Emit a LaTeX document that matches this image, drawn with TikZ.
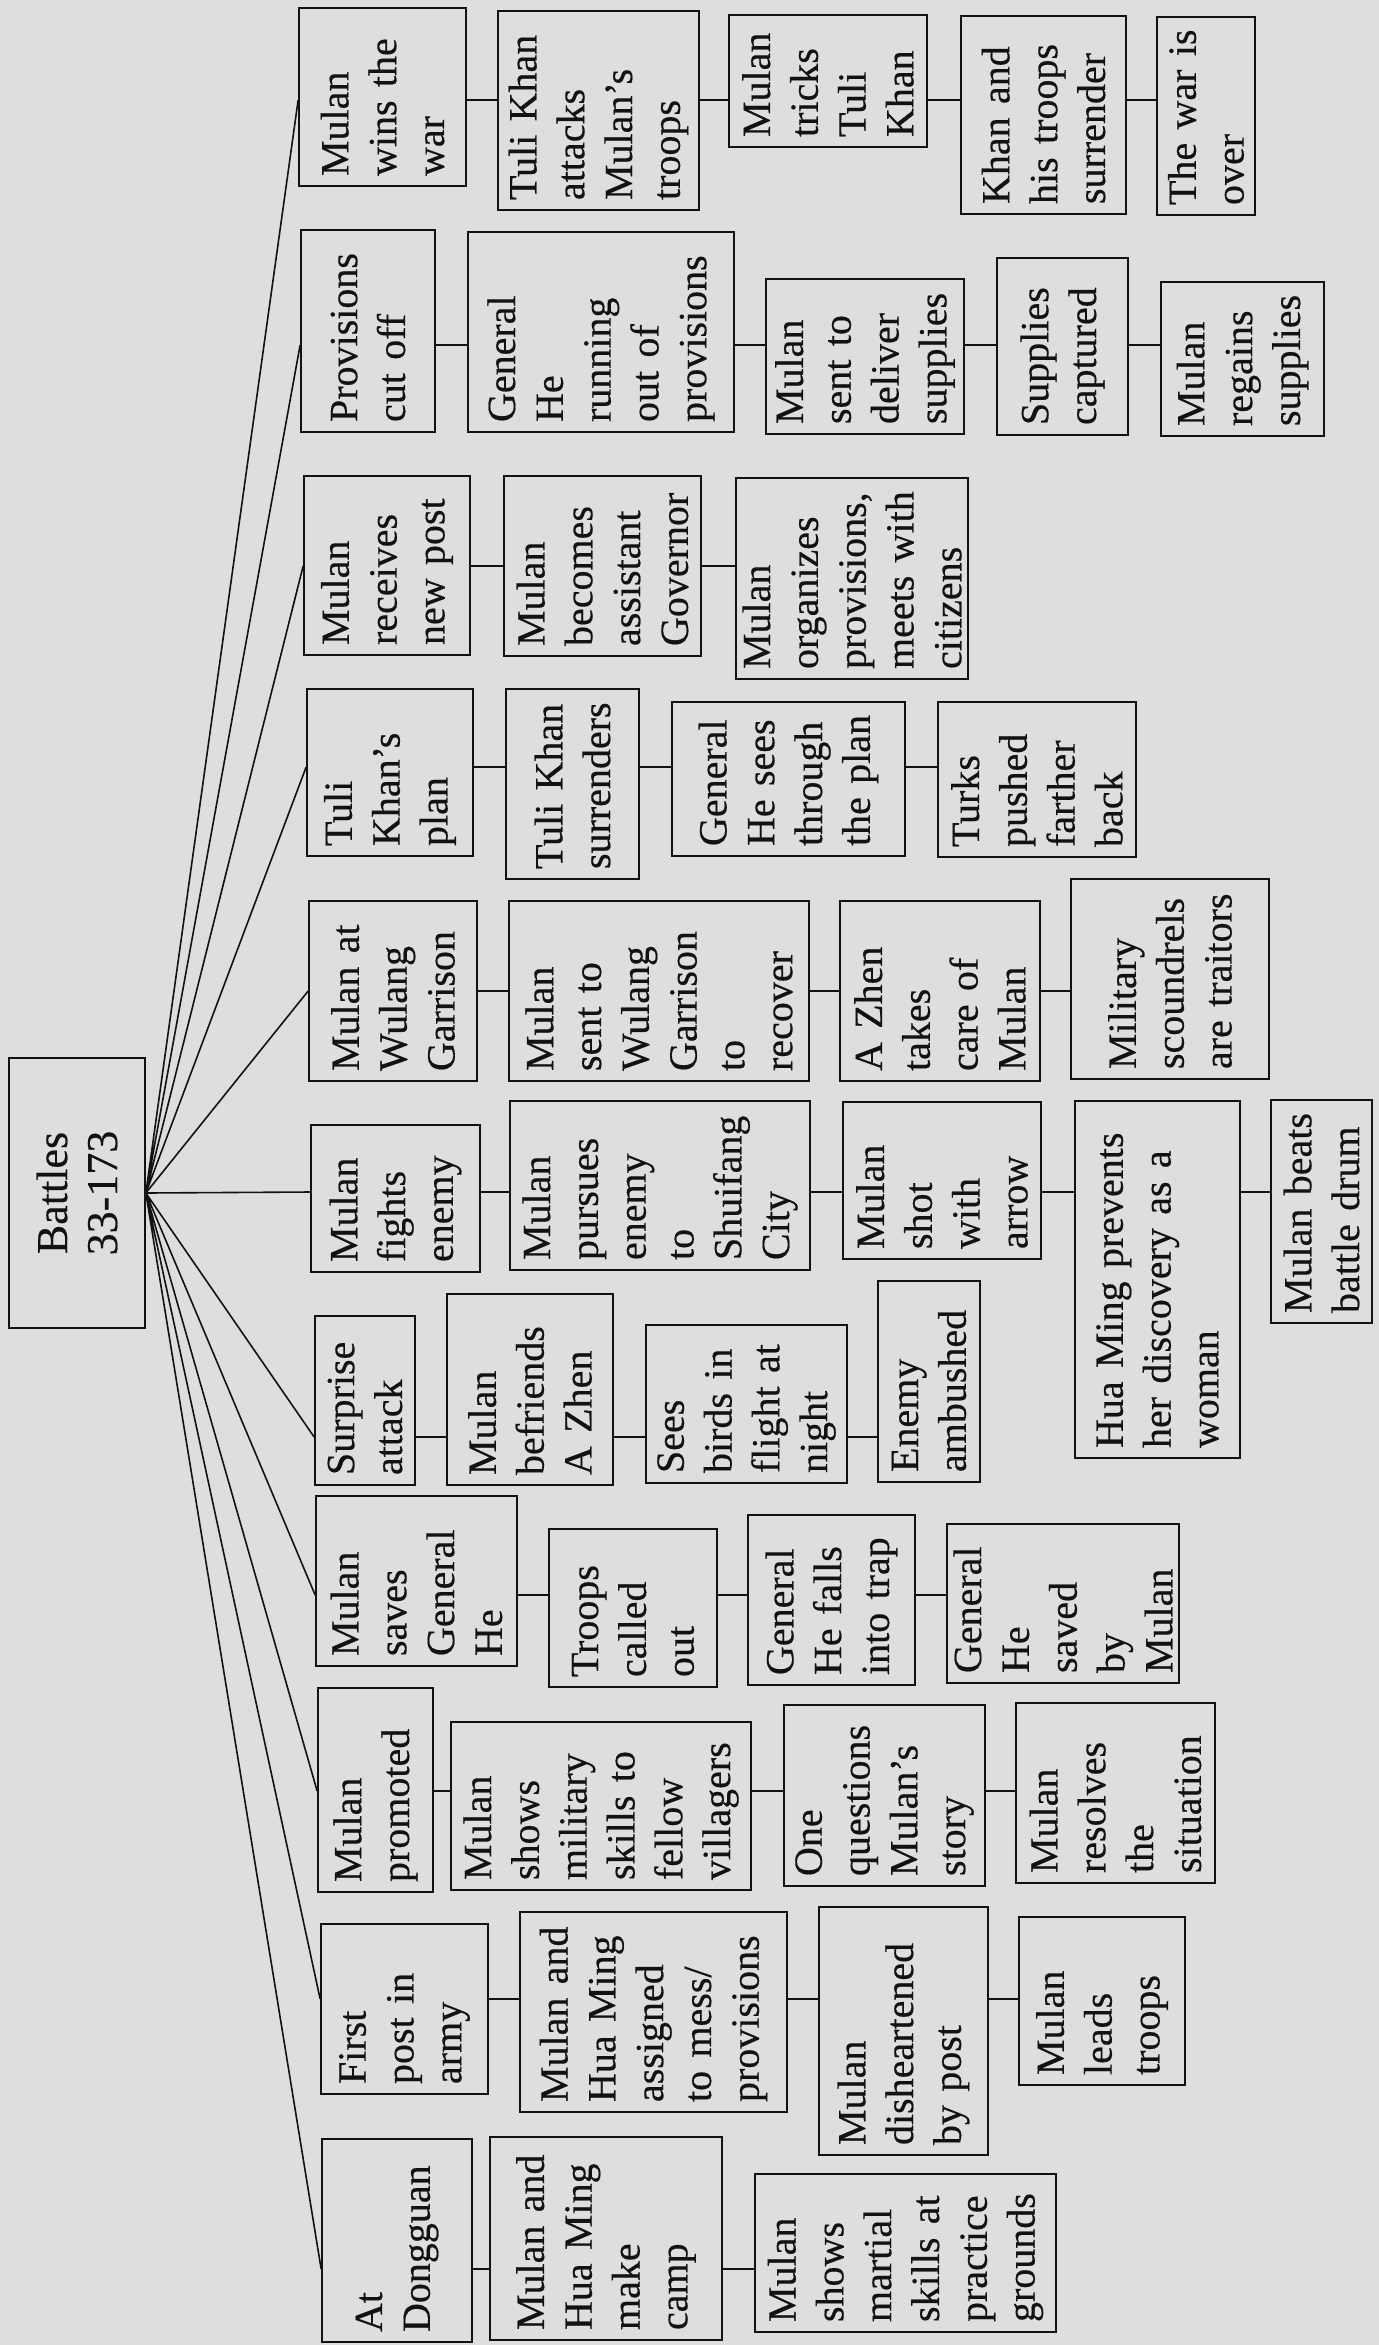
\documentclass[tikz,border=0pt]{standalone}
\usepackage{fontspec}
\usepackage{tikz}
\usepackage{xcolor}
\setmainfont{Liberation Serif}[FakeBold=0.4]
\hyphenpenalty=10000
\definecolor{paper}{RGB}{221,223,220}
\definecolor{ink}{RGB}{18,18,18}
\newcommand\evfont{\fontsize{20}{23.9}\selectfont}
\newcommand\rootfont{\fontsize{22}{25}\selectfont}
\tikzset{
  evt/.style={draw=ink, text=ink, line width=0.85pt, rotate=90, align=left, inner xsep=5pt, inner ysep=0pt, font=\evfont},
  link/.style={draw=ink, line width=0.8pt}
}

\begin{document}
\begin{tikzpicture}[x=0.5pt,y=-0.5pt]
\fill[paper] (0,0) rectangle (1379,2345);
\useasboundingbox (0,0) rectangle (1379,2345);

\node[evt, align=center, font=\rootfont, minimum width=135pt, minimum height=68pt] (R) at (77,1193) {Battles\\33-173};

% one row of boxes per battle
\node[evt, text width=79pt, minimum width=89pt, minimum height=83.5pt] (A1) at (382.5,97) {Mulan\\wins the\\war};
\node[evt, text width=89.5pt, minimum width=99.5pt, minimum height=100.5pt] (A2) at (598.5,110.5) {Tuli Khan\\attacks\\Mulan’s\\troops};
\node[evt, text width=56pt, minimum width=66pt, minimum height=99pt] (A3) at (828,81) {Mulan\\tricks\\Tuli\\Khan};
\node[evt, text width=89pt, minimum width=99pt, minimum height=82.5pt] (A4) at (1043.5,115) {Khan and\\his troops\\surrender};
\node[evt, text width=89pt, minimum width=99pt, minimum height=49pt] (A5) at (1206,116) {The war is\\over};

\node[evt, text width=91pt, minimum width=101pt, minimum height=67pt] (B1) at (368,331) {Provisions\\cut off};
\node[evt, text width=90pt, minimum width=100pt, minimum height=133pt] (B2) at (601,332) {General\\He\\running\\out of\\provisions};
\node[evt, text width=67.5pt, minimum width=77.5pt, minimum height=99pt] (B3) at (865,356.5) {Mulan\\sent to\\deliver\\supplies};
\node[evt, text width=78.5pt, minimum width=88.5pt, minimum height=65.5pt] (B4) at (1062.5,346.5) {Supplies\\captured};
\node[evt, text width=67pt, minimum width=77pt, minimum height=81.5pt] (B5) at (1242.5,359) {Mulan\\regains\\supplies};

\node[evt, text width=79.5pt, minimum width=89.5pt, minimum height=83pt] (C1) at (387,565.5) {Mulan\\receives\\new post};
\node[evt, text width=80pt, minimum width=90pt, minimum height=98.5pt] (C2) at (602.5,566) {Mulan\\becomes\\assistant\\Governor};
\node[evt, text width=90.5pt, minimum width=100.5pt, minimum height=116pt] (C3) at (852,578.5) {Mulan\\organizes\\provisions,\\meets with\\citizens};

\node[evt, text width=73.5pt, minimum width=83.5pt, minimum height=83pt] (D1) at (390,772.5) {Tuli\\Khan’s\\plan};
\node[evt, text width=85pt, minimum width=95pt, minimum height=66.5pt] (D2) at (572.5,784) {Tuli Khan\\surrenders};
\node[evt, text width=67pt, minimum width=77pt, minimum height=116.5pt] (D3) at (788.5,779) {General\\He sees\\through\\the plan};
\node[evt, text width=67.5pt, minimum width=77.5pt, minimum height=99pt] (D4) at (1037,779.5) {Turks\\pushed\\farther\\back};

\node[evt, text width=80pt, minimum width=90pt, minimum height=84pt] (E1) at (393,991) {Mulan at\\Wulang\\Garrison};
\node[evt, text width=80pt, minimum width=90pt, minimum height=150pt] (E2) at (659,991) {Mulan\\sent to\\Wulang\\Garrison\\to\\recover};
\node[evt, text width=80pt, minimum width=90pt, minimum height=100pt] (E3) at (940,991) {A Zhen\\takes\\care of\\Mulan};
\node[evt, text width=90pt, minimum width=100pt, minimum height=99pt] (E4) at (1170,979) {Military\\scoundrels\\are traitors};

\node[evt, text width=63.5pt, minimum width=73.5pt, minimum height=84.5pt] (F1) at (395.5,1198.5) {Mulan\\fights\\enemy};
\node[evt, text width=74.5pt, minimum width=84.5pt, minimum height=150pt] (F2) at (660,1185.5) {Mulan\\pursues\\enemy\\to\\Shuifang\\City};
\node[evt, text width=68.5pt, minimum width=78.5pt, minimum height=99pt] (F3) at (942,1180.5) {Mulan\\shot\\with\\arrow};
\node[evt, text width=168.5pt, minimum width=178.5pt, minimum height=82.5pt] (F4) at (1157.5,1279.5) {Hua Ming prevents\\her discovery as a\\woman};
\node[evt, text width=101.5pt, minimum width=111.5pt, minimum height=50.5pt] (F5) at (1321.5,1211.5) {Mulan beats\\battle drum};

\node[evt, text width=74.5pt, minimum width=84.5pt, minimum height=50pt] (G1) at (365,1400.5) {Surprise\\attack};
\node[evt, text width=85.5pt, minimum width=95.5pt, minimum height=83pt] (G2) at (530,1389.5) {Mulan\\befriends\\A Zhen};
\node[evt, text width=69pt, minimum width=79pt, minimum height=100.5pt] (G3) at (746.5,1404) {Sees\\birds in\\flight at\\night};
\node[evt, text width=90.5pt, minimum width=100.5pt, minimum height=51pt] (G4) at (929,1381.5) {Enemy\\ambushed};

\node[evt, text width=75pt, minimum width=85pt, minimum height=100.5pt] (H1) at (416.5,1581) {Mulan\\saves\\General\\He};
\node[evt, text width=69pt, minimum width=79pt, minimum height=84pt] (H2) at (633,1608) {Troops\\called\\out};
\node[evt, text width=75pt, minimum width=85pt, minimum height=83.5pt] (H3) at (831.5,1600) {General\\He falls\\into trap};
\node[evt, text width=69.5pt, minimum width=79.5pt, minimum height=116pt] (H4) at (1063,1603.5) {General\\He\\saved\\by\\Mulan};

\node[evt, text width=92pt, minimum width=102pt, minimum height=57.5pt] (I1) at (375.5,1790) {Mulan\\promoted};
\node[evt, text width=74pt, minimum width=84pt, minimum height=150pt] (I2) at (601,1806) {Mulan\\shows\\military\\skills to\\fellow\\villagers};
\node[evt, text width=80.5pt, minimum width=90.5pt, minimum height=100.5pt] (I3) at (884.5,1795.5) {One\\questions\\Mulan’s\\story};
\node[evt, text width=80pt, minimum width=90pt, minimum height=99.5pt] (I4) at (1115.5,1793) {Mulan\\resolves\\the\\situation};

\node[evt, text width=75pt, minimum width=85pt, minimum height=83.5pt] (J1) at (404.5,2009) {First\\post in\\army};
\node[evt, text width=90pt, minimum width=100pt, minimum height=133.5pt] (J2) at (653.5,2012) {Mulan and\\Hua Ming\\assigned\\to mess/\\provisions};
\node[evt, text width=114pt, minimum width=124pt, minimum height=84.5pt] (J3) at (903.5,2031) {Mulan\\disheartened\\by post};
\node[evt, text width=74pt, minimum width=84pt, minimum height=83pt] (J4) at (1102,2001) {Mulan\\leads\\troops};

\node[evt, text width=91.5pt, minimum width=101.5pt, minimum height=75pt] (K1) at (397,2240.5) {At\\Dongguan};
\node[evt, text width=91.5pt, minimum width=101.5pt, minimum height=116pt] (K2) at (606,2238.5) {Mulan and\\Hua Ming\\make\\camp};
\node[evt, text width=69pt, minimum width=79pt, minimum height=150.5pt] (K3) at (905.5,2253) {Mulan\\shows\\martial\\skills at\\practice\\grounds};

% levels of the connecting lines
\coordinate (la) at (0,100);
\coordinate (lb) at (0,345);
\coordinate (lc) at (0,566);
\coordinate (ld) at (0,767);
\coordinate (le) at (0,991);
\coordinate (lf) at (0,1192);
\coordinate (lg) at (0,1437);
\coordinate (lh) at (0,1595);
\coordinate (li) at (0,1791);
\coordinate (lj) at (0,1999);
\coordinate (lk) at (0,2269);

\draw[link] (R.south) -- (A1.north |- la) (R.south) -- (B1.north |- lb) (R.south) -- (C1.north |- lc) (R.south) -- (D1.north |- ld);
\draw[link] (R.south) -- (E1.north |- le) (R.south) -- (F1.north |- lf) (R.south) -- (G1.north |- lg) (R.south) -- (H1.north |- lh);
\draw[link] (R.south) -- (I1.north |- li) (R.south) -- (J1.north |- lj) (R.south) -- (K1.north |- lk);

\draw[link] (A1.south |- la) -- (A2.north |- la) (A2.south |- la) -- (A3.north |- la) (A3.south |- la) -- (A4.north |- la) (A4.south |- la) -- (A5.north |- la);
\draw[link] (B1.south |- lb) -- (B2.north |- lb) (B2.south |- lb) -- (B3.north |- lb) (B3.south |- lb) -- (B4.north |- lb) (B4.south |- lb) -- (B5.north |- lb);
\draw[link] (C1.south |- lc) -- (C2.north |- lc) (C2.south |- lc) -- (C3.north |- lc);
\draw[link] (D1.south |- ld) -- (D2.north |- ld) (D2.south |- ld) -- (D3.north |- ld) (D3.south |- ld) -- (D4.north |- ld);
\draw[link] (E1.south |- le) -- (E2.north |- le) (E2.south |- le) -- (E3.north |- le) (E3.south |- le) -- (E4.north |- le);
\draw[link] (F1.south |- lf) -- (F2.north |- lf) (F2.south |- lf) -- (F3.north |- lf) (F3.south |- lf) -- (F4.north |- lf) (F4.south |- lf) -- (F5.north |- lf);
\draw[link] (G1.south |- lg) -- (G2.north |- lg) (G2.south |- lg) -- (G3.north |- lg) (G3.south |- lg) -- (G4.north |- lg);
\draw[link] (H1.south |- lh) -- (H2.north |- lh) (H2.south |- lh) -- (H3.north |- lh) (H3.south |- lh) -- (H4.north |- lh);
\draw[link] (I1.south |- li) -- (I2.north |- li) (I2.south |- li) -- (I3.north |- li) (I3.south |- li) -- (I4.north |- li);
\draw[link] (J1.south |- lj) -- (J2.north |- lj) (J2.south |- lj) -- (J3.north |- lj) (J3.south |- lj) -- (J4.north |- lj);
\draw[link] (K1.south |- lk) -- (K2.north |- lk) (K2.south |- lk) -- (K3.north |- lk);

\end{tikzpicture}
\end{document}
